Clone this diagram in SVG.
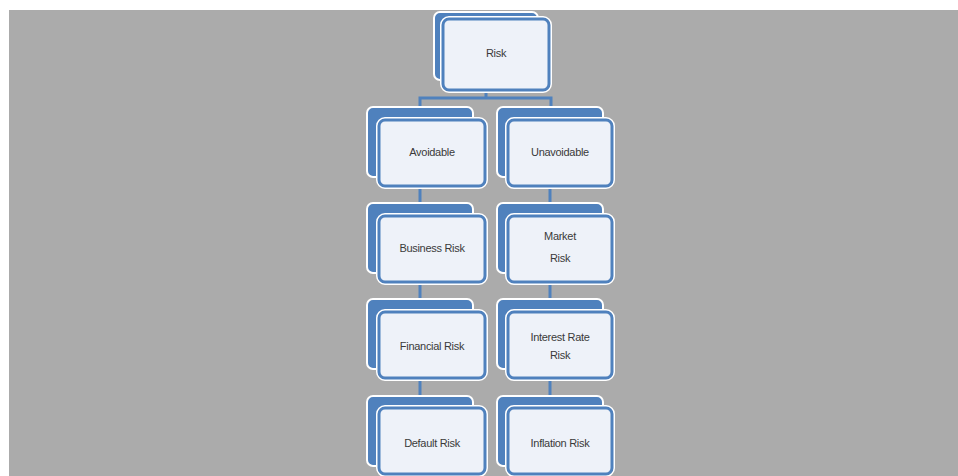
<svg xmlns="http://www.w3.org/2000/svg" width="958" height="476" viewBox="0 0 958 476">
<style>
.back{fill:#4f81bd;stroke:#ffffff;stroke-width:2}
.fw{fill:none;stroke:#ffffff;stroke-width:6}
.front{fill:#eef2f9;stroke:#4f81bd;stroke-width:3}
.con{fill:none;stroke:#4f81bd;stroke-width:3}
text{font-family:"Liberation Sans",Arial,sans-serif;font-size:11px;fill:#3a3a3a;text-anchor:middle;letter-spacing:-0.3px}
</style>
<rect x="0" y="0" width="958" height="476" fill="#ffffff"/>
<rect x="9" y="10" width="949" height="466" fill="#ababab"/>
<g id="connectors">
<path class="con" d="M486 88 V98 M420 106 V98 H551 V106"/>
<path class="con" d="M420 170 V410"/>
<path class="con" d="M550 170 V410"/>
</g>
<g id="risk">
<rect class="back" x="434" y="12" width="104" height="68" rx="6"/>
<rect class="fw" x="443" y="19" width="106" height="71" rx="6"/>
<rect class="front" x="443" y="19" width="106" height="71" rx="6"/>
<text x="496" y="57">Risk</text>
</g>
<g id="avoidable">
<rect class="back" x="367" y="107" width="106" height="70" rx="6"/>
<rect class="fw" x="379" y="120" width="106" height="66" rx="6"/>
<rect class="front" x="379" y="120" width="106" height="66" rx="6"/>
<text x="432" y="156">Avoidable</text>
</g>
<g id="unavoidable">
<rect class="back" x="497" y="107" width="106" height="70" rx="6"/>
<rect class="fw" x="508" y="120" width="104" height="66" rx="6"/>
<rect class="front" x="508" y="120" width="104" height="66" rx="6"/>
<text x="560" y="156">Unavoidable</text>
</g>
<g id="business-risk">
<rect class="back" x="367" y="203" width="106" height="70" rx="6"/>
<rect class="fw" x="379" y="216" width="106" height="66" rx="6"/>
<rect class="front" x="379" y="216" width="106" height="66" rx="6"/>
<text x="432" y="252">Business Risk</text>
</g>
<g id="market-risk">
<rect class="back" x="497" y="203" width="106" height="70" rx="6"/>
<rect class="fw" x="508" y="216" width="104" height="66" rx="6"/>
<rect class="front" x="508" y="216" width="104" height="66" rx="6"/>
<text x="560" y="240">Market</text>
<text x="560" y="262">Risk</text>
</g>
<g id="financial-risk">
<rect class="back" x="367" y="299" width="106" height="70" rx="6"/>
<rect class="fw" x="379" y="312" width="106" height="66" rx="6"/>
<rect class="front" x="379" y="312" width="106" height="66" rx="6"/>
<text x="432" y="350">Financial Risk</text>
</g>
<g id="interest-rate-risk">
<rect class="back" x="497" y="299" width="106" height="70" rx="6"/>
<rect class="fw" x="508" y="312" width="104" height="66" rx="6"/>
<rect class="front" x="508" y="312" width="104" height="66" rx="6"/>
<text x="560" y="341">Interest Rate</text>
<text x="560" y="359">Risk</text>
</g>
<g id="default-risk">
<rect class="back" x="367" y="396" width="106" height="70" rx="6"/>
<rect class="fw" x="379" y="408" width="106" height="66" rx="6"/>
<rect class="front" x="379" y="408" width="106" height="66" rx="6"/>
<text x="432" y="447">Default Risk</text>
</g>
<g id="inflation-risk">
<rect class="back" x="497" y="396" width="106" height="70" rx="6"/>
<rect class="fw" x="508" y="408" width="104" height="66" rx="6"/>
<rect class="front" x="508" y="408" width="104" height="66" rx="6"/>
<text x="560" y="447">Inflation Risk</text>
</g>
</svg>
